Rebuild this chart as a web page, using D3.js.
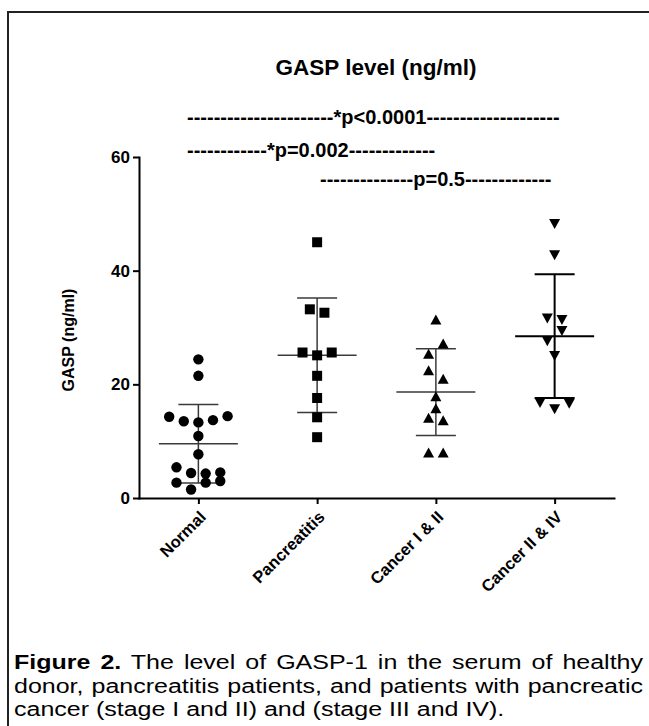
<!DOCTYPE html>
<html>
<head>
<meta charset="utf-8">
<script src="https://cdn.jsdelivr.net/npm/d3@7"></script>
<style>
  body { margin: 0; background: #fff; }
  text { font-family: "Liberation Sans", Arial, sans-serif; fill: #000; }
</style>
</head>
<body>
<svg id="chart" width="649" height="726"></svg>
<script>
// groups and the GASP values (ng/ml), listed top down,
// left to right where points share a level
const categories = ["Normal", "Pancreatitis", "Cancer I & II", "Cancer II & IV"];
const normal = [24.4, 21.5, 14.3, 13.5, 13.3, 13.7, 14.4, 10.9, 7.7, 5.4, 4.4, 4.3, 4.5, 2.7, 1.5, 2.7, 3.0];
const pancreatitis = [45.0, 33.2, 32.6, 25.6, 25.1, 25.6, 21.5, 17.6, 14.2, 10.7];
const cancerEarly = [31.4, 25.4, 27.2, 22.5, 21.0, 17.9, 15.8, 14.1, 13.7, 8.0, 8.0];
const cancerLate = [48.2, 42.7, 31.6, 31.3, 27.6, 29.4, 25.0, 16.7, 15.6, 16.6];
const yTicks = [0, 20, 40, 60];
const pLabels = [
  "----------------------*p<0.0001--------------------",
  "------------*p=0.002-------------",
  "--------------p=0.5-------------"
];
const title = "GASP level (ng/ml)";
const yLabel = "GASP (ng/ml)";
const captionLines = [
  [["Figure 2.", true], [" The level of GASP-1 in the serum of healthy", false]],
  [["donor, pancreatitis patients, and patients with pancreatic", false]],
  [["cancer (stage I and II) and (stage III and IV).", false]]
];

const groups = [normal, pancreatitis, cancerEarly, cancerLate];
const shapes = ["circle", "square", "up", "down"];

const svg = d3.select("#chart");

// frame round the figure (runs off the right and bottom)
svg.append("rect")
  .attr("x", 8).attr("y", 12)
  .attr("width", 700).attr("height", 760)
  .attr("fill", "none").attr("stroke", "#222").attr("stroke-width", 2);

const x = d3.scalePoint().domain(categories).range([139, 614]).padding(0.5);
const y = d3.scaleLinear().domain([0, 60]).range([498, 157]);

// title and p-value lines
svg.append("text")
  .attr("x", 376).attr("y", 75)
  .attr("text-anchor", "middle")
  .style("font-size", "22.5px").style("font-weight", "bold")
  .text(title);

const pPos = [[187, 124], [187, 157], [320, 186]];
svg.selectAll("text.pval")
  .data(pLabels)
  .enter().append("text")
  .attr("class", "pval")
  .attr("x", (d, i) => pPos[i][0])
  .attr("y", (d, i) => pPos[i][1])
  .style("font-size", "20px").style("font-weight", "bold")
  .text(d => d);

// axes
const yAxis = svg.append("g")
  .attr("transform", "translate(139,0)")
  .call(d3.axisLeft(y).tickValues(yTicks).tickSize(6).tickSizeOuter(0).tickPadding(3));
const xAxis = svg.append("g")
  .attr("transform", "translate(0,498)")
  .call(d3.axisBottom(x).tickSize(6).tickSizeOuter(0));

[yAxis, xAxis].forEach(g => {
  g.select(".domain").attr("stroke", "#000").attr("stroke-width", 2).attr("stroke-linecap", "square");
  g.selectAll(".tick line").attr("stroke", "#000").attr("stroke-width", 2);
  g.selectAll("text").style("font-size", "17px").style("font-weight", "bold").attr("fill", "#000");
});

xAxis.selectAll(".tick text")
  .attr("x", 0).attr("y", 0).attr("dy", "0.35em")
  .attr("text-anchor", "end")
  .attr("transform", "translate(4,16) rotate(-45)")
  .style("font-size", "16.5px");

svg.append("text")
  .attr("transform", "translate(74,340) rotate(-90)")
  .attr("text-anchor", "middle")
  .style("font-size", "16px").style("font-weight", "bold")
  .text(yLabel);

// points that sit on about the same level go in one centred row
function rows(values, cx) {
  const rowH = 11, gap = 14.6;
  const order = d3.range(values.length).sort((a, b) => values[a] - values[b]);
  const out = [];
  let row = [];
  const flush = () => {
    row.sort((a, b) => a - b).forEach((i, k) => {
      out.push({ x: cx + (k - (row.length - 1) / 2) * gap, y: y(values[i]) });
    });
    row = [];
  };
  order.forEach(i => {
    if (row.length && y(values[row[0]]) - y(values[i]) > rowH) flush();
    row.push(i);
  });
  flush();
  return out;
}

function marker(shape) {
  if (shape === "circle") return "M-5.2,0a5.2,5.2 0 1,0 10.4,0a5.2,5.2 0 1,0 -10.4,0Z";
  if (shape === "square") return "M-5,-5H5V5H-5Z";
  if (shape === "up") return "M0,-5L5.5,5H-5.5Z";
  return "M0,5L5.5,-5H-5.5Z";
}

groups.forEach((vals, gi) => {
  const cx = x(categories[gi]);
  const m = d3.mean(vals), s = d3.deviation(vals);
  const g = svg.append("g");
  const col = gi === 3 ? "#000" : "#3a3a3a";
  const w = gi === 3 ? 2 : 1.5;
  // mean with SD
  g.append("line").attr("x1", cx).attr("x2", cx).attr("y1", y(m + s)).attr("y2", y(m - s));
  g.append("line").attr("x1", cx - 39.5).attr("x2", cx + 39.5).attr("y1", y(m)).attr("y2", y(m));
  [m + s, m - s].forEach(v => {
    g.append("line").attr("x1", cx - 20).attr("x2", cx + 20).attr("y1", y(v)).attr("y2", y(v));
  });
  g.selectAll("line").attr("stroke", col).attr("stroke-width", w);

  svg.append("g").selectAll("path")
    .data(rows(vals, cx))
    .enter().append("path")
    .attr("d", marker(shapes[gi]))
    .attr("transform", d => `translate(${d.x},${d.y})`)
    .attr("fill", "#000");
});

// caption: the figure is stretched sideways, so the text is too;
// first two lines are justified
const capLeft = 14, capRight = 643, sx = 1.25;
const capBase = [669, 693, 716];
captionLines.forEach((parts, li) => {
  const t = svg.append("text")
    .attr("transform", `translate(${capLeft},${capBase[li]}) scale(${sx},1)`)
    .style("font-size", "20px")
    .attr("xml:space", "preserve");
  parts.forEach(([str, bold]) => {
    t.append("tspan").style("font-weight", bold ? "bold" : "normal").text(str);
  });
  if (li < 2) {
    const nat = t.node().getComputedTextLength();
    const spaces = parts.map(p => p[0]).join("").split(" ").length - 1;
    const extra = Math.max(0, ((capRight - capLeft) / sx - nat) / spaces);
    t.style("word-spacing", extra + "px");
  }
});
</script>
</body>
</html>
